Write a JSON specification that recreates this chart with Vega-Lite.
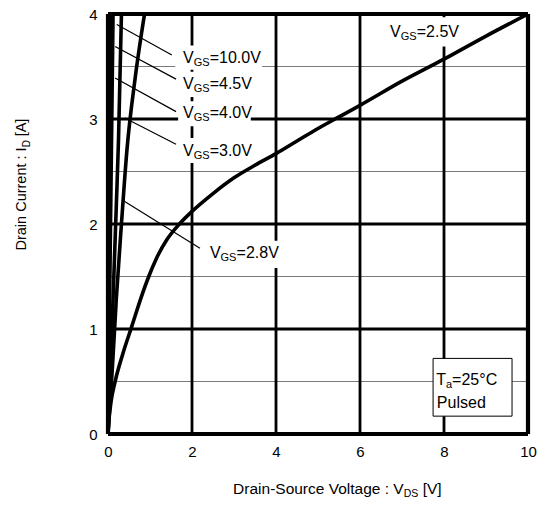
{
  "$schema": "https://vega.github.io/schema/vega-lite/v6.json",
  "width": 420,
  "height": 420,
  "autosize": {"type": "none"},
  "padding": {"left": 108, "top": 14, "right": 17, "bottom": 71},
  "background": "white",
  "config": {
    "view": {"stroke": null},
    "font": "Liberation Sans",
    "text": {"font": "Liberation Sans", "color": "black"}
  },
  "datasets": {
    "curves": [
      {"vgs": "2.5", "x": 0, "y": 0},
      {"vgs": "2.5", "x": 0.02, "y": 0.12},
      {"vgs": "2.5", "x": 0.07, "y": 0.3},
      {"vgs": "2.5", "x": 0.17, "y": 0.5},
      {"vgs": "2.5", "x": 0.35, "y": 0.76},
      {"vgs": "2.5", "x": 0.57, "y": 1.03},
      {"vgs": "2.5", "x": 0.78, "y": 1.29},
      {"vgs": "2.5", "x": 0.97, "y": 1.5},
      {"vgs": "2.5", "x": 1.15, "y": 1.67},
      {"vgs": "2.5", "x": 1.4, "y": 1.85},
      {"vgs": "2.5", "x": 1.7, "y": 2.0},
      {"vgs": "2.5", "x": 2.0, "y": 2.12},
      {"vgs": "2.5", "x": 2.5, "y": 2.29},
      {"vgs": "2.5", "x": 3.0, "y": 2.44},
      {"vgs": "2.5", "x": 3.5, "y": 2.56},
      {"vgs": "2.5", "x": 4.0, "y": 2.67},
      {"vgs": "2.5", "x": 4.5, "y": 2.79},
      {"vgs": "2.5", "x": 5.0, "y": 2.91},
      {"vgs": "2.5", "x": 5.5, "y": 3.02},
      {"vgs": "2.5", "x": 6.0, "y": 3.13},
      {"vgs": "2.5", "x": 7.0, "y": 3.36},
      {"vgs": "2.5", "x": 8.0, "y": 3.57},
      {"vgs": "2.5", "x": 9.0, "y": 3.79},
      {"vgs": "2.5", "x": 10.0, "y": 4.0},
      {"vgs": "2.8", "x": 0, "y": 0},
      {"vgs": "2.8", "x": 0.1, "y": 0.6},
      {"vgs": "2.8", "x": 0.2, "y": 1.3},
      {"vgs": "2.8", "x": 0.32, "y": 2.0},
      {"vgs": "2.8", "x": 0.45, "y": 2.7},
      {"vgs": "2.8", "x": 0.65, "y": 3.4},
      {"vgs": "2.8", "x": 0.87, "y": 4.0},
      {"vgs": "3.0", "x": 0, "y": 0},
      {"vgs": "3.0", "x": 0.06, "y": 0.6},
      {"vgs": "3.0", "x": 0.13, "y": 1.4},
      {"vgs": "3.0", "x": 0.2, "y": 2.2},
      {"vgs": "3.0", "x": 0.25, "y": 2.8},
      {"vgs": "3.0", "x": 0.32, "y": 4.0},
      {"vgs": "4.0", "x": 0, "y": 0},
      {"vgs": "4.0", "x": 0.12, "y": 4.0},
      {"vgs": "4.5", "x": 0, "y": 0},
      {"vgs": "4.5", "x": 0.07, "y": 4.0},
      {"vgs": "10.0", "x": 0, "y": 0},
      {"vgs": "10.0", "x": 0.03, "y": 4.0}
    ],
    "vmajor": [{"x": 2}, {"x": 4}, {"x": 6}, {"x": 8}],
    "hmajor": [{"y": 1}, {"y": 2}, {"y": 3}],
    "hminor": [{"y": 0.5}, {"y": 1.5}, {"y": 2.5}, {"y": 3.5}],
    "vframe": [{"x": 0}, {"x": 10}],
    "hframe": [{"y": 0}, {"y": 4}],
    "boxes": [
      {"x": 1.6, "x2": 3.67, "y": 3.7, "y2": 3.47},
      {"x": 1.67, "x2": 3.4, "y": 3.45, "y2": 3.21},
      {"x": 1.67, "x2": 3.4, "y": 3.17, "y2": 2.93},
      {"x": 1.67, "x2": 3.4, "y": 2.82, "y2": 2.58},
      {"x": 2.33, "x2": 4.05, "y": 1.84, "y2": 1.58},
      {"x": 6.6, "x2": 8.33, "y": 3.97, "y2": 3.69}
    ],
    "legendbox": [{"x": 7.74, "x2": 9.62, "y": 0.72, "y2": 0.17}],
    "leaders": [
      {"x": 0.21, "y": 3.9, "x2": 1.52, "y2": 3.61},
      {"x": 0.17, "y": 3.69, "x2": 1.62, "y2": 3.38},
      {"x": 0.17, "y": 3.39, "x2": 1.62, "y2": 3.07},
      {"x": 0.4, "y": 3.01, "x2": 1.62, "y2": 2.76},
      {"x": 0.33, "y": 2.23, "x2": 2.19, "y2": 1.77}
    ],
    "labels": [
      {"x": 2.04, "y": 3.58, "pre": "V", "sub": "GS", "post": "=10.0V", "g": "GS"},
      {"x": 2.04, "y": 3.33, "pre": "V", "sub": "GS", "post": "=4.5V", "g": "GS"},
      {"x": 2.04, "y": 3.06, "pre": "V", "sub": "GS", "post": "=4.0V", "g": "GS"},
      {"x": 2.04, "y": 2.7, "pre": "V", "sub": "GS", "post": "=3.0V", "g": "GS"},
      {"x": 2.68, "y": 1.72, "pre": "V", "sub": "GS", "post": "=2.8V", "g": "GS"},
      {"x": 6.97, "y": 3.83, "pre": "V", "sub": "GS", "post": "=2.5V", "g": "GS"},
      {"x": 8.05, "y": 0.51, "pre": "T", "sub": "a", "post": "=25°C", "g": "a"},
      {"x": 7.83, "y": 0.3, "pre": "", "sub": "", "post": "Pulsed", "g": "none"}
    ],
    "xtitle": [{"x": 7.04, "y": -0.524, "pre": "Drain-Source Voltage : V", "sub": "DS", "post": "[V]"}],
    "ytitle": [{"x": -2.05, "y": 2.73, "pre": "Drain Current : I", "sub": "D", "post": "[A]"}]
  },
  "layer": [
    {
      "data": {"name": "hminor"},
      "mark": {"type": "rule", "color": "#7a7a7a", "strokeWidth": 1.2},
      "encoding": {
        "y": {"field": "y", "type": "quantitative",
              "scale": {"domain": [0, 4], "nice": false, "zero": false},
              "axis": {"values": [0, 1, 2, 3, 4], "format": "d", "ticks": false, "domain": false, "grid": false,
                       "title": null, "labelFont": "Liberation Sans", "labelFontSize": 15,
                       "labelColor": "black", "labelPadding": 11, "labelFlush": false}}
      }
    },
    {
      "data": {"name": "hmajor"},
      "mark": {"type": "rule", "color": "black", "strokeWidth": 2.8},
      "encoding": {
        "y": {"field": "y", "type": "quantitative", "scale": {"domain": [0, 4], "nice": false, "zero": false}}
      }
    },
    {
      "data": {"name": "vmajor"},
      "mark": {"type": "rule", "color": "black", "strokeWidth": 2.8},
      "encoding": {
        "x": {"field": "x", "type": "quantitative",
              "scale": {"domain": [0, 10], "nice": false, "zero": false},
              "axis": {"values": [0, 2, 4, 6, 8, 10], "format": "d", "ticks": false, "domain": false, "grid": false,
                       "title": null, "labelFont": "Liberation Sans", "labelFontSize": 15,
                       "labelColor": "black", "labelPadding": 10, "labelFlush": false}}
      }
    },
    {
      "data": {"name": "boxes"},
      "mark": {"type": "rect", "fill": "white"},
      "encoding": {
        "x": {"field": "x", "type": "quantitative", "scale": {"domain": [0, 10], "nice": false, "zero": false}},
        "x2": {"field": "x2"},
        "y": {"field": "y", "type": "quantitative", "scale": {"domain": [0, 4], "nice": false, "zero": false}},
        "y2": {"field": "y2"}
      }
    },
    {
      "data": {"name": "vframe"},
      "mark": {"type": "rule", "color": "black", "strokeWidth": 4.2},
      "encoding": {
        "x": {"field": "x", "type": "quantitative", "scale": {"domain": [0, 10], "nice": false, "zero": false}}
      }
    },
    {
      "data": {"name": "hframe"},
      "mark": {"type": "rule", "color": "black", "strokeWidth": 4.2},
      "encoding": {
        "y": {"field": "y", "type": "quantitative", "scale": {"domain": [0, 4], "nice": false, "zero": false}}
      }
    },
    {
      "data": {"name": "legendbox"},
      "mark": {"type": "rect", "fill": "white", "stroke": "black", "strokeWidth": 1},
      "encoding": {
        "x": {"field": "x", "type": "quantitative", "scale": {"domain": [0, 10], "nice": false, "zero": false}},
        "x2": {"field": "x2"},
        "y": {"field": "y", "type": "quantitative", "scale": {"domain": [0, 4], "nice": false, "zero": false}},
        "y2": {"field": "y2"}
      }
    },
    {
      "data": {"name": "leaders"},
      "mark": {"type": "rule", "color": "black", "strokeWidth": 1.2},
      "encoding": {
        "x": {"field": "x", "type": "quantitative", "scale": {"domain": [0, 10], "nice": false, "zero": false}},
        "x2": {"field": "x2"},
        "y": {"field": "y", "type": "quantitative", "scale": {"domain": [0, 4], "nice": false, "zero": false}},
        "y2": {"field": "y2"}
      }
    },
    {
      "data": {"name": "curves"},
      "mark": {"type": "line", "color": "black", "strokeWidth": 3.6, "strokeJoin": "round", "interpolate": "monotone", "clip": true},
      "encoding": {
        "x": {"field": "x", "type": "quantitative", "scale": {"domain": [0, 10], "nice": false, "zero": false}},
        "y": {"field": "y", "type": "quantitative", "scale": {"domain": [0, 4], "nice": false, "zero": false}},
        "detail": {"field": "vgs", "type": "nominal"}
      }
    },
    {
      "data": {"name": "labels"},
      "mark": {"type": "text", "align": "right", "baseline": "middle", "fontSize": 16},
      "encoding": {
        "x": {"field": "x", "type": "quantitative", "scale": {"domain": [0, 10], "nice": false, "zero": false}},
        "y": {"field": "y", "type": "quantitative", "scale": {"domain": [0, 4], "nice": false, "zero": false}},
        "text": {"field": "pre"}
      }
    },
    {
      "data": {"name": "labels"},
      "mark": {"type": "text", "align": "left", "baseline": "middle", "fontSize": 11, "dy": 5},
      "encoding": {
        "x": {"field": "x", "type": "quantitative", "scale": {"domain": [0, 10], "nice": false, "zero": false}},
        "y": {"field": "y", "type": "quantitative", "scale": {"domain": [0, 4], "nice": false, "zero": false}},
        "text": {"field": "sub"}
      }
    },
    {
      "data": {"name": "labels"},
      "transform": [{"filter": "datum.g === 'GS'"}],
      "mark": {"type": "text", "align": "left", "baseline": "middle", "fontSize": 16, "dx": 16},
      "encoding": {
        "x": {"field": "x", "type": "quantitative", "scale": {"domain": [0, 10], "nice": false, "zero": false}},
        "y": {"field": "y", "type": "quantitative", "scale": {"domain": [0, 4], "nice": false, "zero": false}},
        "text": {"field": "post"}
      }
    },
    {
      "data": {"name": "labels"},
      "transform": [{"filter": "datum.g === 'a'"}],
      "mark": {"type": "text", "align": "left", "baseline": "middle", "fontSize": 16, "dx": 6},
      "encoding": {
        "x": {"field": "x", "type": "quantitative", "scale": {"domain": [0, 10], "nice": false, "zero": false}},
        "y": {"field": "y", "type": "quantitative", "scale": {"domain": [0, 4], "nice": false, "zero": false}},
        "text": {"field": "post"}
      }
    },
    {
      "data": {"name": "labels"},
      "transform": [{"filter": "datum.g === 'none'"}],
      "mark": {"type": "text", "align": "left", "baseline": "middle", "fontSize": 16},
      "encoding": {
        "x": {"field": "x", "type": "quantitative", "scale": {"domain": [0, 10], "nice": false, "zero": false}},
        "y": {"field": "y", "type": "quantitative", "scale": {"domain": [0, 4], "nice": false, "zero": false}},
        "text": {"field": "post"}
      }
    },
    {
      "data": {"name": "xtitle"},
      "mark": {"type": "text", "align": "right", "baseline": "middle", "fontSize": 15.5},
      "encoding": {
        "x": {"field": "x", "type": "quantitative", "scale": {"domain": [0, 10], "nice": false, "zero": false}},
        "y": {"field": "y", "type": "quantitative", "scale": {"domain": [0, 4], "nice": false, "zero": false}},
        "text": {"field": "pre"}
      }
    },
    {
      "data": {"name": "xtitle"},
      "mark": {"type": "text", "align": "left", "baseline": "middle", "fontSize": 10.5, "dy": 5},
      "encoding": {
        "x": {"field": "x", "type": "quantitative", "scale": {"domain": [0, 10], "nice": false, "zero": false}},
        "y": {"field": "y", "type": "quantitative", "scale": {"domain": [0, 4], "nice": false, "zero": false}},
        "text": {"field": "sub"}
      }
    },
    {
      "data": {"name": "xtitle"},
      "mark": {"type": "text", "align": "left", "baseline": "middle", "fontSize": 15.5, "dx": 19},
      "encoding": {
        "x": {"field": "x", "type": "quantitative", "scale": {"domain": [0, 10], "nice": false, "zero": false}},
        "y": {"field": "y", "type": "quantitative", "scale": {"domain": [0, 4], "nice": false, "zero": false}},
        "text": {"field": "post"}
      }
    },
    {
      "data": {"name": "ytitle"},
      "mark": {"type": "text", "align": "right", "baseline": "middle", "fontSize": 14.5, "angle": 270},
      "encoding": {
        "x": {"field": "x", "type": "quantitative", "scale": {"domain": [0, 10], "nice": false, "zero": false}},
        "y": {"field": "y", "type": "quantitative", "scale": {"domain": [0, 4], "nice": false, "zero": false}},
        "text": {"field": "pre"}
      }
    },
    {
      "data": {"name": "ytitle"},
      "mark": {"type": "text", "align": "left", "baseline": "middle", "fontSize": 10, "dy": 5, "angle": 270},
      "encoding": {
        "x": {"field": "x", "type": "quantitative", "scale": {"domain": [0, 10], "nice": false, "zero": false}},
        "y": {"field": "y", "type": "quantitative", "scale": {"domain": [0, 4], "nice": false, "zero": false}},
        "text": {"field": "sub"}
      }
    },
    {
      "data": {"name": "ytitle"},
      "mark": {"type": "text", "align": "left", "baseline": "middle", "fontSize": 14.5, "dx": 11, "angle": 270},
      "encoding": {
        "x": {"field": "x", "type": "quantitative", "scale": {"domain": [0, 10], "nice": false, "zero": false}},
        "y": {"field": "y", "type": "quantitative", "scale": {"domain": [0, 4], "nice": false, "zero": false}},
        "text": {"field": "post"}
      }
    }
  ]
}
